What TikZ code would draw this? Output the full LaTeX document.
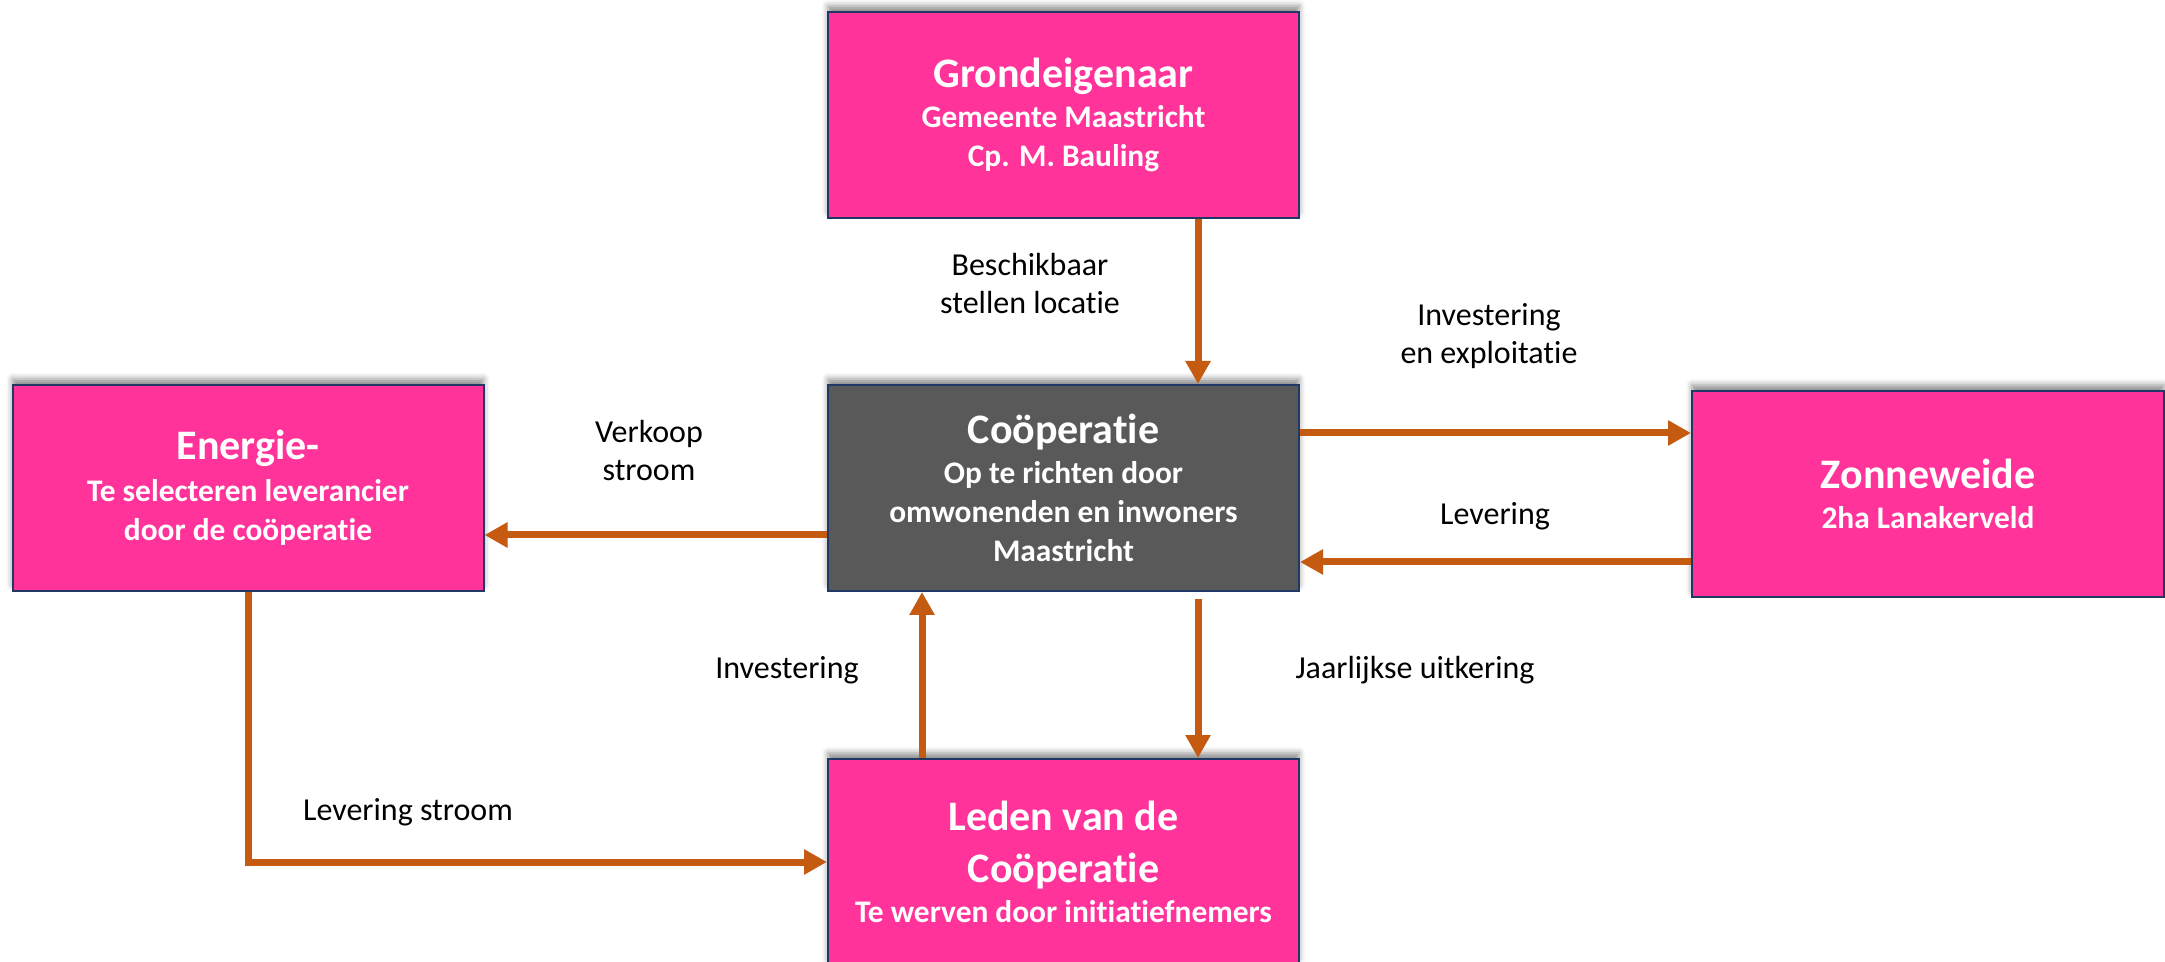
\documentclass[tikz,border=0pt]{standalone}
\usepackage{fontspec}
\setmainfont{Carlito}[Ligatures=NoCommon]
\usetikzlibrary{arrows.meta,shadows.blur}

\definecolor{roze}{HTML}{FF3399}
\definecolor{donker}{HTML}{595959}
\definecolor{rand}{HTML}{203864}
\definecolor{oranje}{HTML}{C55A11}

\tikzset{
  blok/.style={draw=rand, line width=1pt, fill=roze, text=white,
    minimum width=235.5pt, minimum height=103pt, align=center,
    font=\bfseries\fontsize{15.7}{19.5}\selectfont,
    blur shadow={shadow xshift=0pt, shadow yshift=3pt, shadow blur radius=3pt, shadow opacity=45}},
  stroom/.style={draw=oranje, line width=3.5pt, -{Triangle[length=11.5pt,width=12pt]}},
  lbl/.style={align=center, text=black, font=\fontsize{16}{19}\selectfont}
}
\newcommand{\titel}[1]{{\fontsize{21}{24}\selectfont #1}}

\begin{document}
\begin{tikzpicture}[x=0.5pt, y=-0.5pt]
    \useasboundingbox (0,0) rectangle (2165,962);

    \node[blok] (grond) at (1063.5,115) {\titel{Grondeigenaar}\\[0.5pt] Gemeente Maastricht\\ Cp. M. Bauling};
    \node[blok, fill=donker] (coop) at (1063.5,488) {\titel{Coöperatie}\\[0.5pt] Op te richten door\\ omwonenden en inwoners\\ Maastricht};
    \node[blok] (energie) at (248,488) {\titel{Energie-}\\[1.5pt] Te selecteren leverancier\\ door de coöperatie};
    \node[blok, minimum width=236pt] (zon) at (1928,494) {\titel{Zonneweide}\\[0.5pt] 2ha Lanakerveld};
    \node[blok] (leden) at (1063.5,862) {\titel{Leden van de}\\[6.5pt] \titel{Coöperatie}\\[0.5pt] Te werven door initiatiefnemers};

    \draw[stroom] ([xshift=67.25pt]grond.south) -- ([xshift=67.25pt]coop.north);
    \draw[stroom] ([yshift=27.5pt]coop.east) -- ([yshift=27.5pt]coop.east -| zon.west);
    \draw[stroom] ([yshift=-37pt]coop.east -| zon.west) -- ([yshift=-37pt]coop.east);
    \draw[stroom] ([yshift=-23.5pt]coop.west) -- ([yshift=-23.5pt]coop.west -| energie.east);
    \draw[stroom] ([xshift=-70.75pt]leden.north) -- ([xshift=-70.75pt]coop.south);
    \draw[stroom] ([xshift=67.25pt,yshift=-3.5pt]coop.south) -- ([xshift=67.25pt]leden.north);
    \draw[stroom] (energie.south) |- (leden.west);

    \node[lbl] (beschikbaar) at (1030,284) {Beschikbaar\\ stellen locatie};
    \node[lbl] (exploitatie) at (1489,336) {Investering\\ en exploitatie};
    \node[lbl] (verkoop) at (649,451) {Verkoop\\ stroom};
    \node[lbl] (levering) at (1495,516) {Levering};
    \node[lbl] (investering) at (787,670) {Investering};
    \node[lbl] (uitkering) at (1415,670) {Jaarlijkse uitkering};
    \node[lbl] (leveringstroom) at (408,812) {Levering stroom};
\end{tikzpicture}
\end{document}
